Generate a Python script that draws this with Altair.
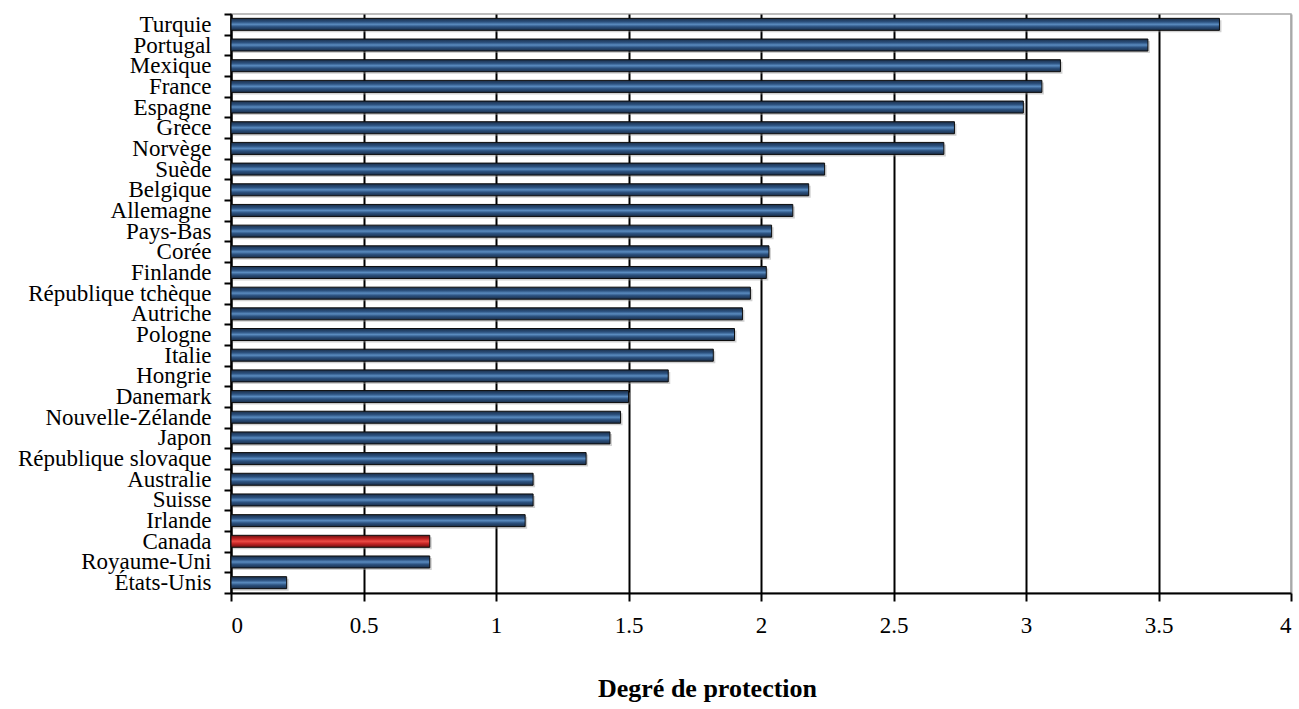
import altair as alt
import pandas as pd

# Employment protection index by country, highest at the top
pays = [
    "Turquie", "Portugal", "Mexique", "France", "Espagne", "Grèce", "Norvège",
    "Suède", "Belgique", "Allemagne", "Pays-Bas", "Corée", "Finlande",
    "République tchèque", "Autriche", "Pologne", "Italie", "Hongrie",
    "Danemark", "Nouvelle-Zélande", "Japon", "République slovaque",
    "Australie", "Suisse", "Irlande", "Canada", "Royaume-Uni", "États-Unis",
]
protection = [
    3.73, 3.46, 3.13, 3.06, 2.99, 2.73, 2.69,
    2.24, 2.18, 2.12, 2.04, 2.03, 2.02,
    1.96, 1.93, 1.90, 1.82, 1.65,
    1.50, 1.47, 1.43, 1.34,
    1.14, 1.14, 1.11, 0.75, 0.75, 0.21,
]
ticks_x = [0, 0.5, 1, 1.5, 2, 2.5, 3, 3.5, 4]

df = pd.DataFrame({"pays": pays, "protection": protection})

blue = alt.Gradient(
    gradient="linear", x1=0, x2=0, y1=0, y2=1,
    stops=[
        alt.GradientStop(color="#1a2d47", offset=0),
        alt.GradientStop(color="#2c5280", offset=0.3),
        alt.GradientStop(color="#5a8bbf", offset=0.5),
        alt.GradientStop(color="#2c5280", offset=0.7),
        alt.GradientStop(color="#1a2d47", offset=1),
    ],
)
red = alt.Gradient(
    gradient="linear", x1=0, x2=0, y1=0, y2=1,
    stops=[
        alt.GradientStop(color="#6a1010", offset=0),
        alt.GradientStop(color="#c42424", offset=0.3),
        alt.GradientStop(color="#ea4a44", offset=0.5),
        alt.GradientStop(color="#c42424", offset=0.7),
        alt.GradientStop(color="#6a1010", offset=1),
    ],
)

font = "Liberation Serif"

y_enc = alt.Y(
    "pays:N",
    sort=pays,
    scale=alt.Scale(paddingInner=0, paddingOuter=0),
    axis=alt.Axis(
        title=None,
        labelFont=font,
        labelFontSize=23,
        labelColor="black",
        labelPadding=13,
        labelLimit=400,
        labelOverlap=False,
        tickBand="extent",
        tickSize=7,
        tickWidth=2,
        tickColor="black",
        domainColor="black",
        domainWidth=2,
        grid=False,
    ),
)
x_enc = alt.X(
    "protection:Q",
    scale=alt.Scale(domain=[0, 4], nice=False),
    axis=alt.Axis(
        title="Degré de protection",
        titleFont=font,
        titleFontSize=26,
        titleFontWeight="bold",
        titleColor="black",
        titlePadding=38,
        titleX=476,
        values=ticks_x,
        format="~g",
        labelFont=font,
        labelFontSize=23,
        labelColor="black",
        labelPadding=13,
        tickSize=8,
        tickWidth=2,
        tickColor="black",
        domainColor="black",
        domainWidth=2,
        grid=True,
        gridColor={"condition": {"test": "datum.value >= 4", "value": "#a8a8a8"}, "value": "black"},
        gridWidth=2,
    ),
)

shadow = alt.Chart(df).mark_bar(
    size=12, color="#9a9a9a", opacity=0.45, xOffset=2, x2Offset=0, yOffset=2
).encode(y=y_enc, x=x_enc)

bars = alt.Chart(df).mark_bar(size=12, stroke="#0d0d0d", strokeWidth=1).encode(
    y=y_enc,
    x=x_enc,
    color=alt.condition(alt.datum.pays == "Canada", alt.value(red), alt.value(blue)),
)

chart = (
    alt.layer(shadow, bars)
    .properties(
        width=1060,
        height=579,
        autosize=alt.AutoSizeParams(type="none"),
        padding={"left": 231, "top": 14, "right": 8, "bottom": 116},
        background="white",
    )
    .configure_view(stroke="#a8a8a8", strokeWidth=1.5)
)

chart.save("out.html", embed_options={"renderer": "svg", "actions": False})
